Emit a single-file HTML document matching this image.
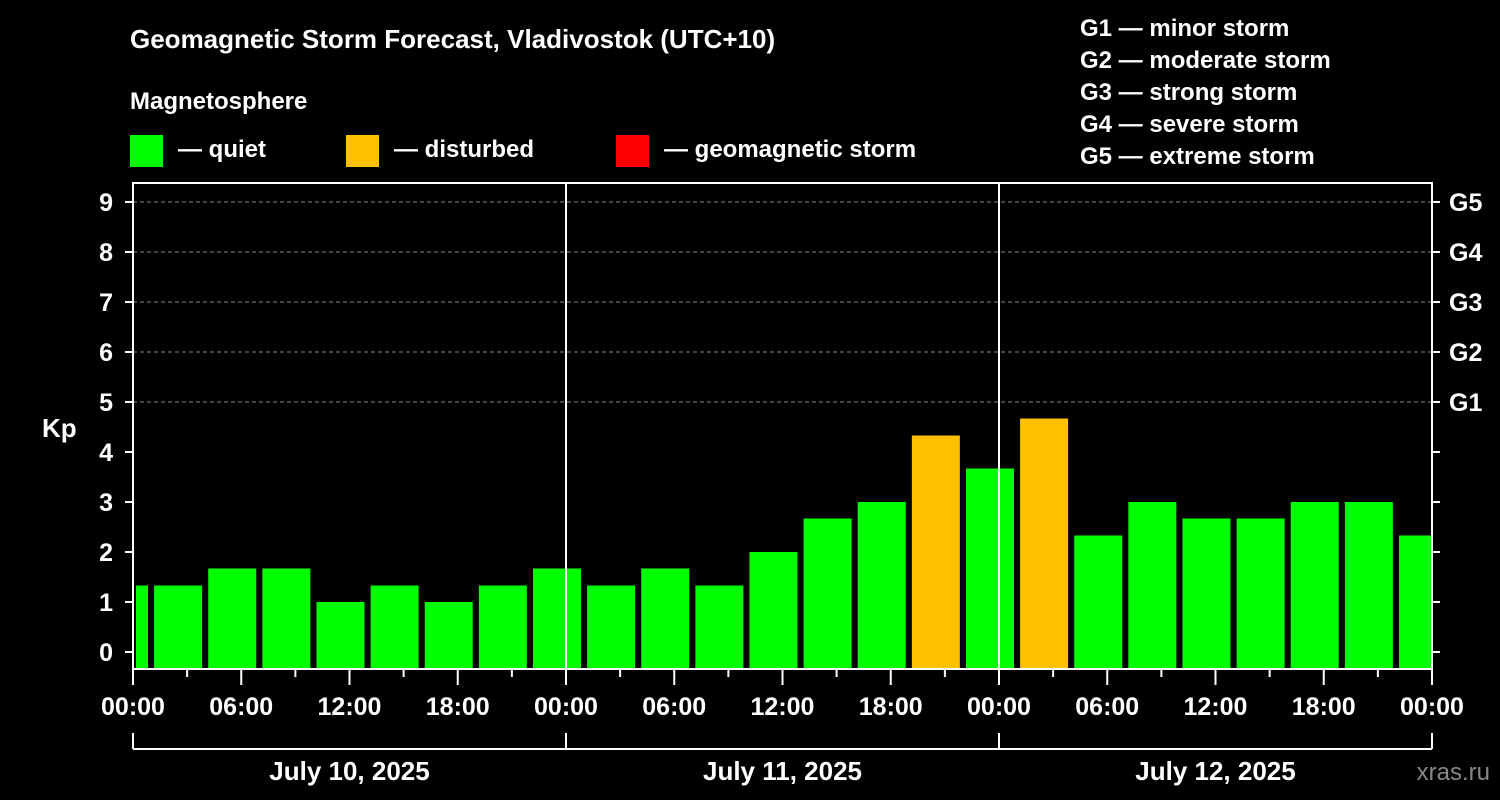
<!DOCTYPE html>
<html><head><meta charset="utf-8"><style>
html,body{margin:0;padding:0;background:#000;}
svg{display:block;font-family:"Liberation Sans",Arial,sans-serif;font-weight:bold;}
</style></head><body>
<svg id="chart" width="1500" height="800" viewBox="0 0 1500 800">
<rect x="0" y="0" width="1500" height="800" fill="#000"/>
<text x="130" y="48" font-size="26" fill="#fff">Geomagnetic Storm Forecast, Vladivostok (UTC+10)</text>
<text x="130" y="109" font-size="24" fill="#fff">Magnetosphere</text>
<g><rect x="130" y="135" width="33" height="32" fill="#00ff00"/><text x="178" y="157" font-size="24" fill="#fff">— quiet</text></g>
<g><rect x="346" y="135" width="33" height="32" fill="#ffc000"/><text x="394" y="157" font-size="24" fill="#fff">— disturbed</text></g>
<g><rect x="616" y="135" width="33" height="32" fill="#ff0000"/><text x="664" y="157" font-size="24" fill="#fff">— geomagnetic storm</text></g>
<g font-size="24" fill="#fff">
<text x="1080" y="36">G1 — minor storm</text>
<text x="1080" y="68">G2 — moderate storm</text>
<text x="1080" y="100">G3 — strong storm</text>
<text x="1080" y="132">G4 — severe storm</text>
<text x="1080" y="164">G5 — extreme storm</text>
</g>
<text x="42" y="437" font-size="26" fill="#fff">Kp</text>
<text x="1490" y="780" font-size="24" fill="#888" text-anchor="end" font-weight="normal">xras.ru</text>
<g id="bars"></g>
<g id="axes"></g>
</svg>
<script>
const kpValues = [1.33,1.33,1.67,1.67,1,1.33,1,1.33,1.67,1.33,1.67,1.33,2,2.67,3,4.33,3.67,4.67,2.33,3,2.67,2.67,3,3,2.33];
const barStartHours = [-2,1,4,7,10,13,16,19,22,25,28,31,34,37,40,43,46,49,52,55,58,61,64,67,70];
const timeTickLabels = ["00:00","06:00","12:00","18:00","00:00","06:00","12:00","18:00","00:00","06:00","12:00","18:00","00:00"];
const dateLabels = ["July 10, 2025","July 11, 2025","July 12, 2025"];
const kpTicks = [0,1,2,3,4,5,6,7,8,9];
const gLabels = {5:"G1",6:"G2",7:"G3",8:"G4",9:"G5"};

const NS="http://www.w3.org/2000/svg";
const L=133, R=1432, T=183, B=669;
const x = h => 133 + (h/72)*(R-L);
const y = k => 652 - k*50;
function mk(tag, attrs, parent){const e=document.createElementNS(NS,tag);for(const k in attrs)e.setAttribute(k,attrs[k]);parent.appendChild(e);return e;}
const bars=document.getElementById('bars'), axes=document.getElementById('axes');

// gridlines
kpTicks.filter(k=>k>=5).forEach(k=>{
  const g=mk('line',{x1:L,x2:R,y1:y(k),y2:y(k),stroke:'#888','stroke-dasharray':'4,3','stroke-width':1},axes);
  
  
});
// bars
kpValues.forEach((v,i)=>{
  const s=Math.max(barStartHours[i]+0.17,0), e=Math.min(barStartHours[i]+2.83,72);
  const x0=Math.max(x(s),L+3);
  const r=mk('rect',{x:x0,y:y(v),width:x(e)-x0,height:B-y(v),fill:v>=4?'#ffc000':'#00ff00'},bars);
  
  
});
// day separators
[24,48].forEach(h=>{
  const l=mk('line',{x1:x(h),x2:x(h),y1:T,y2:B,stroke:'#fff','stroke-width':2},axes);
  
  
});
// frame
const fr=mk('rect',{x:L,y:T,width:R-L,height:B-T,fill:'none',stroke:'#fff','stroke-width':2},axes);


// y ticks
kpTicks.forEach(k=>{
  mk('line',{x1:L-8,x2:L,y1:y(k),y2:y(k),stroke:'#fff','stroke-width':2},axes);
  mk('line',{x1:R,x2:R+8,y1:y(k),y2:y(k),stroke:'#fff','stroke-width':2},axes);
  const t=mk('text',{x:113,y:y(k)+9,'font-size':25,fill:'#fff','text-anchor':'end'},axes);
  t.textContent=k;
  
  
  if(gLabels[k]){
    const g=mk('text',{x:1449,y:y(k)+9,'font-size':25,fill:'#fff'},axes);
    g.textContent=gLabels[k];
    
    
  }
});
// x ticks
for(let h=0;h<=72;h+=3){
  const major=h%6===0;
  mk('line',{x1:x(h),x2:x(h),y1:B,y2:B+(major?16:8),stroke:'#fff','stroke-width':2},axes);
}
timeTickLabels.forEach((lab,i)=>{
  const t=mk('text',{x:x(i*6),y:715,'font-size':25,fill:'#fff','text-anchor':'middle'},axes);
  t.textContent=lab;
  
  
});
// date bracket
mk('line',{x1:x(0),x2:x(72),y1:749,y2:749,stroke:'#fff','stroke-width':2},axes);
[0,24,48,72].forEach(h=>mk('line',{x1:x(h),x2:x(h),y1:733,y2:749,stroke:'#fff','stroke-width':2},axes));
dateLabels.forEach((d,i)=>{
  const t=mk('text',{x:x(i*24+12),y:780,'font-size':26,fill:'#fff','text-anchor':'middle'},axes);
  t.textContent=d;
  
  
});
</script>
</body></html>
